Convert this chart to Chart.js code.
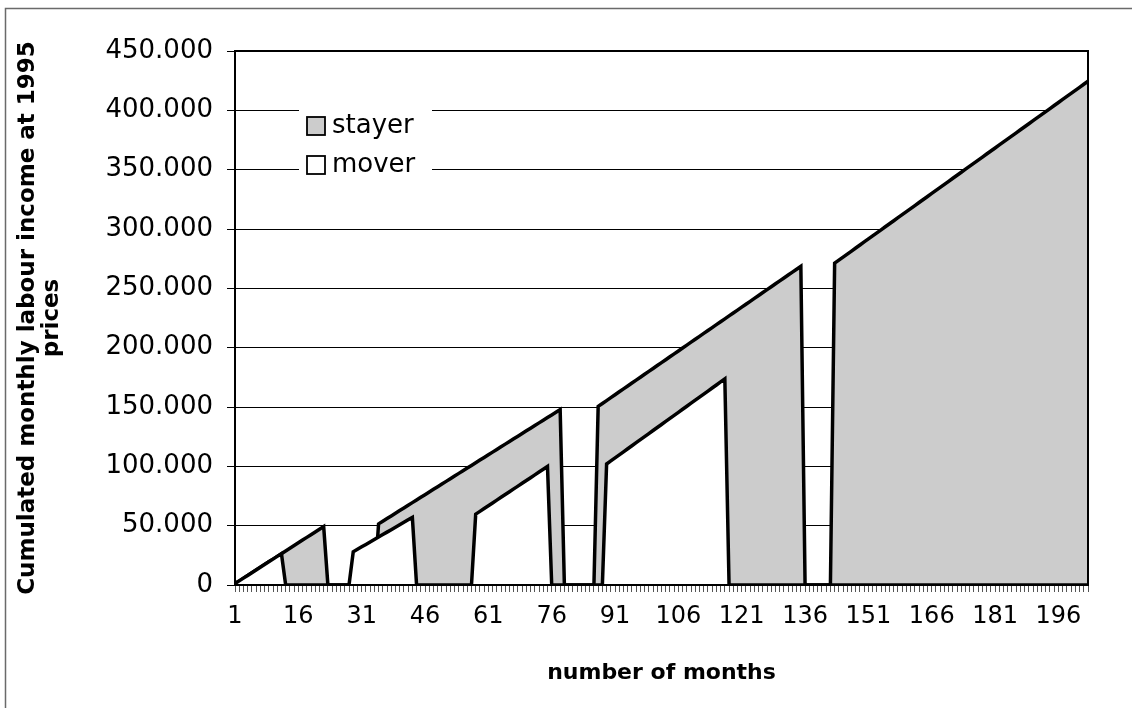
<!DOCTYPE html>
<html>
<head>
<meta charset="utf-8">
<title>Cumulated monthly labour income: stayer vs mover</title>
<script src="https://cdn.jsdelivr.net/npm/chart.js@4.4.1/dist/chart.umd.min.js"></script>
<style>
  html, body { margin: 0; padding: 0; background: #ffffff; }
  #wrap { position: relative; width: 1132px; height: 708px; }
  canvas { display: block; }
</style>
</head>
<body>
<div id="wrap"><canvas id="chart" width="1132" height="708"></canvas></div>
<script>
// Month index (category axis)
const months = [
  1,2,3,4,5,6,7,8,9,10,11,12,13,14,15,16,17,18,19,20,
  21,22,23,24,25,26,27,28,29,30,31,32,33,34,35,36,37,38,39,40,
  41,42,43,44,45,46,47,48,49,50,51,52,53,54,55,56,57,58,59,60,
  61,62,63,64,65,66,67,68,69,70,71,72,73,74,75,76,77,78,79,80,
  81,82,83,84,85,86,87,88,89,90,91,92,93,94,95,96,97,98,99,100,
  101,102,103,104,105,106,107,108,109,110,111,112,113,114,115,116,117,118,119,120,
  121,122,123,124,125,126,127,128,129,130,131,132,133,134,135,136,137,138,139,140,
  141,142,143,144,145,146,147,148,149,150,151,152,153,154,155,156,157,158,159,160,
  161,162,163,164,165,166,167,168,169,170,171,172,173,174,175,176,177,178,179,180,
  181,182,183,184,185,186,187,188,189,190,191,192,193,194,195,196,197,198,199,200,
  201,202,203
];

// Labelled months on the category axis
const monthTickLabels = ['1','16','31','46','61','76','91','106','121','136','151','166','181','196'];

// Cumulated monthly labour income, stayer (0 = no income recorded that month)
const stayer = [
  1200, 3490, 5780, 8070, 10360, 12650, 14940, 17230, 19520, 21810,
  24100, 26390, 28680, 30970, 33260, 35550, 37840, 40130, 42420, 44710,
  47000, 49290,
  0, 0, 0, 0, 0, 0, 0, 0, 0, 0, 0, 0,
  51500, 53740, 55980, 58220, 60460, 62700, 64940, 67180, 69420, 71660,
  73900, 76140, 78380, 80620, 82860, 85100, 87340, 89580, 91820, 94060,
  96300, 98540, 100780, 103020, 105260, 107500, 109740, 111980, 114220, 116460,
  118700, 120940, 123180, 125420, 127660, 129900, 132140, 134380, 136620, 138860,
  141100, 143340, 145580, 147820,
  0, 0, 0, 0, 0, 0, 0, 0,
  150500, 152960, 155420, 157880, 160340, 162800, 165260, 167720, 170180, 172640,
  175100, 177560, 180020, 182480, 184940, 187400, 189860, 192320, 194780, 197240,
  199700, 202160, 204620, 207080, 209540, 212000, 214460, 216920, 219380, 221840,
  224300, 226760, 229220, 231680, 234140, 236600, 239060, 241520, 243980, 246440,
  248900, 251360, 253820, 256280, 258740, 261200, 263660, 266120, 268580,
  0, 0, 0, 0, 0, 0, 0,
  271200, 273755, 276310, 278865, 281420, 283975, 286530, 289085, 291640, 294195,
  296750, 299305, 301860, 304415, 306970, 309525, 312080, 314635, 317190, 319745,
  322300, 324855, 327410, 329965, 332520, 335075, 337630, 340185, 342740, 345295,
  347850, 350405, 352960, 355515, 358070, 360625, 363180, 365735, 368290, 370845,
  373400, 375955, 378510, 381065, 383620, 386175, 388730, 391285, 393840, 396395,
  398950, 401505, 404060, 406615, 409170, 411725, 414280, 416835, 419390, 421945,
  424500
];

// Cumulated monthly labour income, mover
const mover = [
  1200, 3490, 5780, 8070, 10360, 12650, 14940, 17230, 19520, 21810,
  24100, 26390,
  0, 0, 0, 0, 0, 0, 0, 0, 0, 0, 0, 0, 0, 0, 0, 0,
  28000, 30070, 32140, 34210, 36280, 38350, 40420, 42490, 44560, 46630,
  48700, 50770, 52840, 54910, 56980,
  0, 0, 0, 0, 0, 0, 0, 0, 0, 0, 0, 0, 0, 0,
  59700, 62065, 64430, 66795, 69160, 71525, 73890, 76255, 78620, 80985,
  83350, 85715, 88080, 90445, 92810, 95175, 97540, 99905,
  0, 0, 0, 0, 0, 0, 0, 0, 0, 0, 0, 0, 0,
  102000, 104560, 107120, 109680, 112240, 114800, 117360, 119920, 122480, 125040,
  127600, 130160, 132720, 135280, 137840, 140400, 142960, 145520, 148080, 150640,
  153200, 155760, 158320, 160880, 163440, 166000, 168560, 171120, 173680,
  0, 0, 0, 0, 0, 0, 0, 0, 0, 0,
  0, 0, 0, 0, 0, 0, 0, 0, 0, 0,
  0, 0, 0, 0, 0, 0, 0, 0, 0, 0,
  0, 0, 0, 0, 0, 0, 0, 0, 0, 0,
  0, 0, 0, 0, 0, 0, 0, 0, 0, 0,
  0, 0, 0, 0, 0, 0, 0, 0, 0, 0,
  0, 0, 0, 0, 0, 0, 0, 0, 0, 0,
  0, 0, 0, 0, 0, 0, 0, 0, 0, 0,
  0, 0, 0, 0, 0, 0
];

const seriesNames = ['stayer', 'mover'];
const seriesFills = ['#cccccc', '#ffffff'];

const FONT = "'DejaVu Sans', Verdana, sans-serif";

// 450000 -> "450.000"
function formatThousands(v) {
  return String(v).replace(/\B(?=(\d{3})+(?!\d))/g, '.');
}

// Outer chart frame and the black border round the plot area
const framePlugin = {
  id: 'frame',
  beforeDraw(chart) {
    const ctx = chart.ctx;
    ctx.save();
    ctx.fillStyle = '#ffffff';
    ctx.fillRect(0, 0, chart.width, chart.height);
    ctx.strokeStyle = '#6a6a6a';
    ctx.lineWidth = 1.5;
    ctx.strokeRect(5.5, 8.5, chart.width + 20, chart.height + 20);
    ctx.restore();
  },
  afterDatasetsDraw(chart) {
    const { ctx, chartArea: a } = chart;
    ctx.save();
    ctx.strokeStyle = '#000000';
    ctx.lineWidth = 2;
    ctx.strokeRect(a.left, a.top, a.right - a.left, a.bottom - a.top);
    ctx.restore();
  }
};

// Legend boxed inside the plot area, on a white ground over the gridlines
const insetLegend = {
  id: 'insetLegend',
  afterDraw(chart) {
    const { ctx, chartArea: a } = chart;
    ctx.save();
    ctx.fillStyle = '#ffffff';
    ctx.fillRect(a.left + 64, a.top + 49, 133, 82);
    ctx.font = '26px ' + FONT;
    ctx.textBaseline = 'middle';
    ctx.textAlign = 'left';
    chart.data.datasets.forEach((ds, i) => {
      const cy = a.top + 74 + i * 39;
      const sx = a.left + 72;
      ctx.fillStyle = ds.backgroundColor;
      ctx.fillRect(sx, cy - 8, 18, 18);
      ctx.strokeStyle = '#000000';
      ctx.lineWidth = 1.8;
      ctx.strokeRect(sx, cy - 8, 18, 18);
      ctx.fillStyle = '#000000';
      ctx.fillText(ds.label, a.left + 97, cy + 1);
    });
    ctx.restore();
  }
};

new Chart(document.getElementById('chart'), {
  type: 'line',
  data: {
    labels: months,
    datasets: [
      {
        label: seriesNames[0],
        data: stayer,
        fill: 'origin',
        backgroundColor: seriesFills[0],
        borderColor: '#000000',
        borderWidth: 3.5,
        pointRadius: 0,
        tension: 0,
        order: 1
      },
      {
        label: seriesNames[1],
        data: mover,
        fill: 'origin',
        backgroundColor: seriesFills[1],
        borderColor: '#000000',
        borderWidth: 3.5,
        pointRadius: 0,
        tension: 0,
        order: 0
      }
    ]
  },
  options: {
    responsive: false,
    devicePixelRatio: 1,
    animation: false,
    layout: { padding: { left: 6, top: 51, right: 44, bottom: 10 } },
    elements: { line: { borderJoinStyle: 'miter' } },
    plugins: {
      legend: { display: false },
      tooltip: { enabled: false }
    },
    scales: {
      x: {
        type: 'category',
        offset: false,
        grid: {
          display: true,
          drawOnChartArea: false,
          drawTicks: true,
          tickLength: 7,
          color: '#555555',
          lineWidth: 1
        },
        border: { display: true, color: '#000000', width: 2 },
        ticks: {
          autoSkip: false,
          maxRotation: 0,
          minRotation: 0,
          padding: 10,
          color: '#000000',
          font: { family: FONT, size: 24 },
          callback(value) {
            const lab = String(this.getLabelForValue(value));
            return monthTickLabels.includes(lab) ? lab : '';
          }
        },
        title: {
          display: true,
          text: 'number of months',
          color: '#000000',
          font: { family: FONT, size: 22, weight: 'bold', lineHeight: 1.2 },
          padding: { top: 0, bottom: 12 }
        },
        afterFit(scale) { scale.height = 113; }
      },
      y: {
        min: 0,
        max: 450000,
        grid: {
          color: '#000000',
          lineWidth: 1,
          drawTicks: true,
          tickLength: 8,
          tickColor: '#000000'
        },
        border: { display: true, color: '#000000', width: 2 },
        ticks: {
          stepSize: 50000,
          padding: 14,
          color: '#000000',
          font: { family: FONT, size: 26 },
          callback: (v) => formatThousands(v)
        },
        title: {
          display: true,
          text: ['Cumulated monthly labour income at 1995', 'prices'],
          color: '#000000',
          font: { family: FONT, size: 23, weight: 'bold', lineHeight: 1.05 },
          padding: { top: 10, bottom: 0 }
        },
        afterFit(scale) { scale.width = 229; }
      }
    }
  },
  plugins: [framePlugin, insetLegend]
});
</script>
</body>
</html>
